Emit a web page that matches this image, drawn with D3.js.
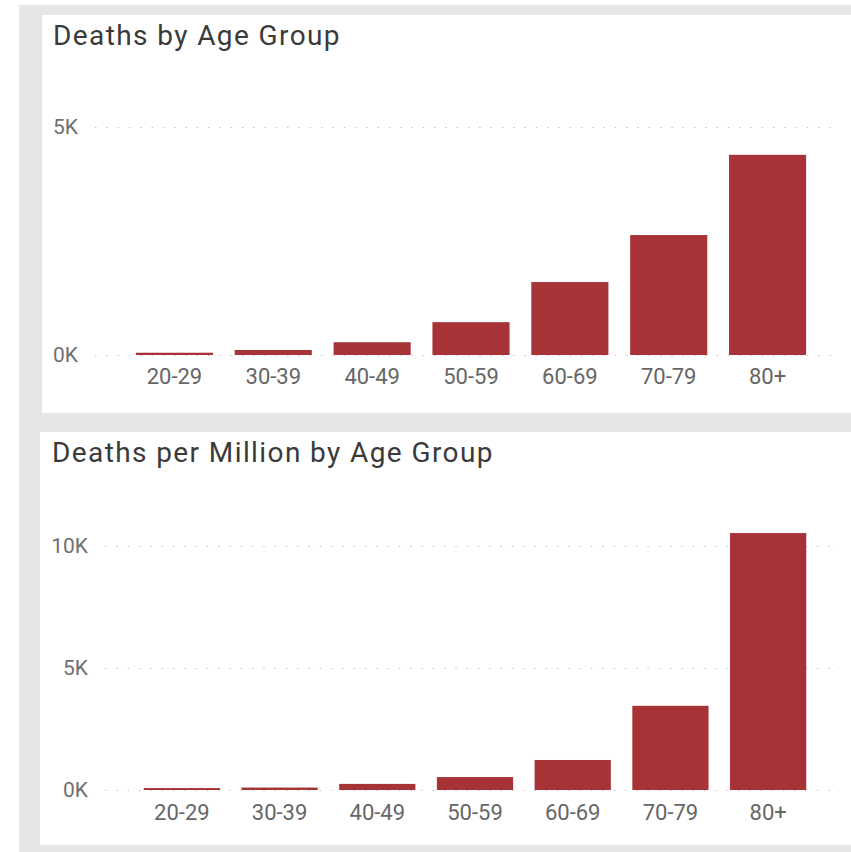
<!DOCTYPE html>
<html>
<head>
<meta charset="utf-8">
<script src="https://cdn.jsdelivr.net/npm/d3@7"></script>
<style>
  html, body { margin: 0; padding: 0; background: #ffffff; }
  svg { display: block; }
</style>
</head>
<body>
<div id="chart"></div>
<script>
// Age bands shared by both visuals
const ageGroups = ["20-29", "30-39", "40-49", "50-59", "60-69", "70-79", "80+"];

// Total deaths per age group
const deaths = [50, 110, 280, 720, 1600, 2630, 4390];

// Deaths per million population per age group
const deathsPerMillion = [80, 100, 250, 530, 1230, 3450, 10530];

// Y axis tick values and their labels
const deathsTicks = [0, 5000];
const deathsTickLabels = ["0K", "5K"];
const perMillionTicks = [0, 5000, 10000];
const perMillionTickLabels = ["0K", "5K", "10K"];

const W = 851, H = 852;
const barColor = "#a83337";
const fontFamily = "Roboto, 'Open Sans', sans-serif";

const svg = d3.select("#chart").append("svg")
  .attr("width", W).attr("height", H);

// page backdrop
svg.append("rect").attr("x", 19).attr("y", 5).attr("width", W - 19).attr("height", H - 5)
  .attr("fill", "#e6e6e6");

function drawPanel(cfg) {
  const g = svg.append("g");
  g.append("rect")
    .attr("x", cfg.panel[0]).attr("y", cfg.panel[1])
    .attr("width", W - cfg.panel[0]).attr("height", cfg.panel[2] - cfg.panel[1])
    .attr("fill", "#ffffff");

  g.append("text")
    .attr("x", cfg.titleX).attr("y", cfg.titleY)
    .attr("fill", "#3a3a3a")
    .style("font-family", fontFamily)
    .style("font-size", "28px")
    .style("letter-spacing", "1.4px")
    .text(cfg.title);

  const x = d3.scaleBand().domain(ageGroups)
    .range(cfg.xRange).paddingInner(0.22).paddingOuter(0.11);
  const y = d3.scaleLinear().domain([0, cfg.yRef]).range(cfg.yRange);

  // y axis with dotted gridlines
  const yAxis = d3.axisLeft(y)
    .tickValues(cfg.ticks)
    .tickFormat((d, i) => cfg.tickLabels[i])
    .tickSize(-(cfg.gridEnd - cfg.gridStart))
    .tickPadding(cfg.gridStart - cfg.labelRight);
  const ya = g.append("g")
    .attr("transform", `translate(${cfg.gridStart},0)`)
    .call(yAxis);
  ya.select(".domain").remove();
  ya.selectAll(".tick line")
    .attr("stroke", "#c4c4c4")
    .attr("stroke-width", 1.2)
    .attr("stroke-dasharray", "1.5,9.8");
  ya.selectAll(".tick text")
    .attr("fill", "#707070")
    .style("font-family", fontFamily)
    .style("font-size", "21px");

  // bars
  g.append("g").selectAll("rect")
    .data(cfg.values)
    .join("rect")
    .attr("x", (d, i) => x(ageGroups[i]))
    .attr("width", x.bandwidth())
    .attr("y", d => y(d))
    .attr("height", d => y(0) - y(d))
    .attr("fill", barColor);

  // category axis
  const xAxis = d3.axisBottom(x).tickSize(0).tickPadding(cfg.xPad);
  const xa = g.append("g")
    .attr("transform", `translate(0,${y(0)})`)
    .call(xAxis);
  xa.select(".domain").remove();
  xa.selectAll(".tick text")
    .attr("fill", "#666666")
    .style("font-family", fontFamily)
    .style("font-size", "22px");
}

drawPanel({
  panel: [42, 15, 413],
  title: "Deaths by Age Group",
  titleX: 53, titleY: 45,
  values: deaths,
  ticks: deathsTicks, tickLabels: deathsTickLabels,
  yRef: 5000, yRange: [355, 127],
  xRange: [125, 817],
  gridStart: 95, gridEnd: 840, labelRight: 78,
  xPad: 13
});

drawPanel({
  panel: [40, 432, 845],
  title: "Deaths per Million by Age Group",
  titleX: 52, titleY: 462,
  values: deathsPerMillion,
  ticks: perMillionTicks, tickLabels: perMillionTickLabels,
  yRef: 10000, yRange: [790, 546],
  xRange: [133, 817],
  gridStart: 105, gridEnd: 840, labelRight: 88,
  xPad: 14
});
</script>
</body>
</html>
